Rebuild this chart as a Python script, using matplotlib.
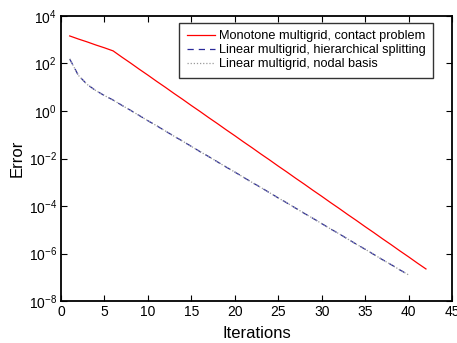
import numpy as np
import matplotlib
matplotlib.use("Agg")
import matplotlib.pyplot as plt
from matplotlib.ticker import FixedLocator, NullLocator

plt.rcParams["font.family"] = ["Liberation Sans", "DejaVu Sans"]
plt.rcParams["mathtext.fontset"] = "custom"
plt.rcParams["mathtext.rm"] = "Liberation Sans"

# log10 of error per iteration
mono_iter = list(range(1, 43))
mono_log = [3.16, 3.03, 2.91, 2.78, 2.66, 2.53, 2.27, 2.02, 1.76, 1.51,
            1.25, 1.00, 0.74, 0.49, 0.23, -0.02, -0.28, -0.53, -0.79, -1.04,
            -1.30, -1.55, -1.81, -2.06, -2.32, -2.57, -2.83, -3.08, -3.34, -3.59,
            -3.85, -4.10, -4.36, -4.61, -4.87, -5.12, -5.38, -5.63, -5.89, -6.14,
            -6.40, -6.65]

lin_iter = list(range(1, 41))
hier_log = [2.19, 1.50, 1.12, 0.86, 0.65, 0.46, 0.24, 0.03, -0.19, -0.41,
            -0.62, -0.84, -1.06, -1.27, -1.49, -1.71, -1.92, -2.14, -2.36, -2.57,
            -2.79, -3.01, -3.22, -3.44, -3.66, -3.87, -4.09, -4.31, -4.52, -4.74,
            -4.96, -5.17, -5.39, -5.61, -5.82, -6.04, -6.26, -6.47, -6.69, -6.90]
nodal_log = [2.19, 1.50, 1.12, 0.86, 0.65, 0.46, 0.24, 0.03, -0.19, -0.41,
             -0.62, -0.84, -1.06, -1.27, -1.49, -1.71, -1.92, -2.14, -2.36, -2.57,
             -2.79, -3.01, -3.22, -3.44, -3.66, -3.87, -4.09, -4.31, -4.52, -4.74,
             -4.96, -5.17, -5.39, -5.61, -5.82, -6.04, -6.26, -6.47, -6.69, -6.90]

labels = ["Monotone multigrid, contact problem",
          "Linear multigrid, hierarchical splitting",
          "Linear multigrid, nodal basis"]

fig = plt.figure(figsize=(4.57, 3.43), dpi=100)
ax = fig.add_axes([0.1335, 0.1224, 0.8556, 0.831])

ax.semilogy(mono_iter, 10 ** np.array(mono_log), color="#ff0000", lw=0.9,
            label=labels[0])
ax.semilogy(lin_iter, 10 ** np.array(hier_log), color="#2a2a9a", lw=0.9,
            ls=(0, (5, 4)), label=labels[1])
ax.semilogy(lin_iter, 10 ** np.array(nodal_log), color="#9a9a9a", lw=0.9,
            ls=(0, (1, 1.5)), label=labels[2])

ax.set_xlim(0, 45)
ax.set_ylim(1e-8, 1e4)
ax.set_xticks(np.arange(0, 46, 5))
ax.yaxis.set_major_locator(FixedLocator([1e-8, 1e-6, 1e-4, 1e-2, 1e0, 1e2, 1e4]))
ax.yaxis.set_minor_locator(NullLocator())
ax.tick_params(direction="in", top=True, right=True, length=4, width=0.8,
               labelsize=10, pad=3)
for s in ax.spines.values():
    s.set_linewidth(1.3)

ax.set_xlabel("Iterations", fontsize=12, labelpad=5)
ax.set_ylabel("Error", fontsize=12, labelpad=3)

leg = ax.legend(loc="upper right", bbox_to_anchor=(0.952, 0.977), fontsize=9.2,
                frameon=True, fancybox=False, edgecolor="black",
                handlelength=2.2, handletextpad=0.3, borderpad=0.6,
                labelspacing=0.15, borderaxespad=0.0)
leg.get_frame().set_linewidth(1.0)

fig.savefig("out.png", dpi=100)
